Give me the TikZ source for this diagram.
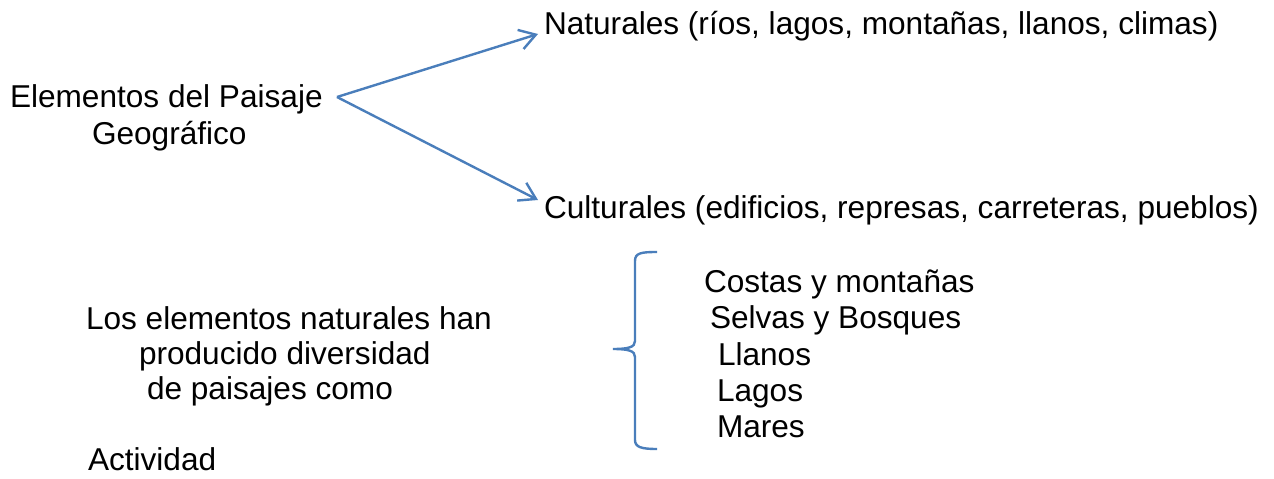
\documentclass[tikz,border=0pt]{standalone}
\usepackage{fontspec}
\setmainfont{Liberation Sans}
\usetikzlibrary{arrows.meta,calc}
\definecolor{linkblue}{RGB}{74,126,187}
\begin{document}
\begin{tikzpicture}[x=1pt,y=1pt,
  txt/.style={anchor=base west,inner sep=0pt,outer sep=0pt,font=\fontsize{31.6}{36}\selectfont},
  conn/.style={draw=linkblue,line width=2.4pt,-{Straight Barb[length=16pt,width=20pt,line width=2.4pt]}},
  bracepath/.style={draw=linkblue,line width=2.4pt}]
\useasboundingbox (0,0) rectangle (1274,-479);
\node[txt] (el1) at (10,-107) {Elementos del Paisaje};
\node[txt] (el2) at (92,-144) {Geográfico};
\node[txt] (nat) at (544,-34) {Naturales (ríos, lagos, montañas, llanos, climas)};
\node[txt] (cul) at (544,-218) {Culturales (edificios, represas, carreteras, pueblos)};
\node[txt] (l1) at (86,-329) {Los elementos naturales han};
\node[txt] (l2) at (139,-364) {producido diversidad};
\node[txt] (l3) at (147,-399) {de paisajes como};
\node[txt] (act) at (88,-470) {Actividad};
\node[txt] (p1) at (704,-292) {Costas y montañas};
\node[txt] (p2) at (710,-328) {Selvas y Bosques};
\node[txt] (p3) at (718,-365) {Llanos};
\node[txt] (p4) at (717,-401) {Lagos};
\node[txt] (p5) at (717,-437) {Mares};
\coordinate (src) at (337,-97);
\coordinate (natTip) at (538,-34);
\coordinate (culTip) at (538,-200);
\draw[conn] (src) -- (natTip);
\draw[conn] (src) -- (culTip);
\draw[bracepath] (657,-252) .. controls (641,-252) and (635,-253) .. (635,-261) -- (635,-341)
  .. controls (635,-347) and (629,-349) .. (613,-349)
  .. controls (629,-349) and (635,-351) .. (635,-357) -- (635,-440)
  .. controls (635,-447) and (641,-449) .. (657,-449);
\end{tikzpicture}
\end{document}
